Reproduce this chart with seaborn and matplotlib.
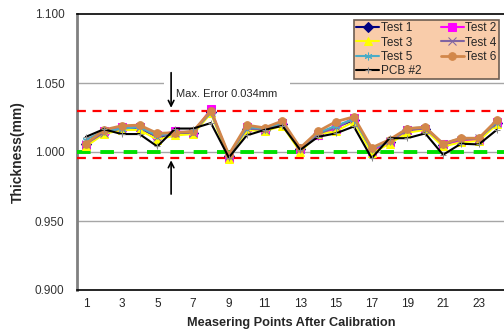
import matplotlib
matplotlib.use("Agg")
import matplotlib.pyplot as plt
import numpy as np
import pandas as pd
import seaborn as sns

points = list(range(1, 25))
test1 = [1.006, 1.014, 1.017, 1.017, 1.011, 1.013, 1.014, 1.029, 0.997, 1.017, 1.016, 1.020,
         1.002, 1.013, 1.018, 1.023, 1.001, 1.007, 1.016, 1.017, 1.005, 1.009, 1.009, 1.021]
test2 = [1.005, 1.015, 1.018, 1.018, 1.012, 1.015, 1.014, 1.031, 0.996, 1.018, 1.016, 1.021,
         1.002, 1.012, 1.017, 1.025, 1.001, 1.007, 1.016, 1.017, 1.006, 1.008, 1.009, 1.022]
test3 = [1.004, 1.013, 1.016, 1.016, 1.009, 1.012, 1.013, 1.028, 0.995, 1.016, 1.015, 1.019,
         1.000, 1.013, 1.015, 1.022, 0.999, 1.006, 1.014, 1.016, 1.004, 1.007, 1.008, 1.020]
test4 = [1.006, 1.014, 1.017, 1.018, 1.011, 1.014, 1.014, 1.029, 0.997, 1.017, 1.016, 1.021,
         1.002, 1.013, 1.018, 1.024, 1.002, 1.008, 1.016, 1.017, 1.006, 1.009, 1.010, 1.021]
test5 = [1.009, 1.015, 1.017, 1.018, 1.012, 1.014, 1.015, 1.029, 0.998, 1.018, 1.017, 1.021,
         1.003, 1.014, 1.019, 1.024, 1.002, 1.008, 1.017, 1.018, 1.006, 1.010, 1.010, 1.022]
test6 = [1.006, 1.016, 1.019, 1.0195, 1.0135, 1.014, 1.015, 1.030, 0.998, 1.0195, 1.0175, 1.0225,
         1.003, 1.015, 1.022, 1.0255, 1.003, 1.009, 1.017, 1.018, 1.006, 1.010, 1.010, 1.023]
pcb2 = [1.011, 1.0165, 1.013, 1.013, 1.004, 1.017, 1.017, 1.021, 0.996, 1.012, 1.016, 1.019,
        1.0015, 1.011, 1.0135, 1.0185, 0.9955, 1.010, 1.010, 1.0135, 0.998, 1.006, 1.0055, 1.016]

series_names = ["Test 1", "Test 2", "Test 3", "Test 4", "Test 5", "Test 6", "PCB #2"]
series_values = [test1, test2, test3, test4, test5, test6, pcb2]

upper_limit = 1.030
lower_limit = 0.996
nominal = 1.000
note_text = "Max. Error 0.034mm"

colors = {"Test 1": "#000080", "Test 2": "#FF00FF", "Test 3": "#FFFF00", "Test 4": "#8064A2",
          "Test 5": "#4BACC6", "Test 6": "#D2874A", "PCB #2": "#000000"}
markers = {"Test 1": "D", "Test 2": "s", "Test 3": "^", "Test 4": "x",
           "Test 5": (6, 2, 0), "Test 6": "o", "PCB #2": "+"}

df = pd.DataFrame({
    "point": points * len(series_names),
    "value": np.concatenate(series_values),
    "series": np.repeat(series_names, len(points)),
})

sns.set_style("white")
plt.rcParams["font.family"] = ["Liberation Sans", "DejaVu Sans"]

fig = plt.figure(figsize=(5.04, 3.31), dpi=100)
ax = fig.add_axes([77 / 504, 1 - 290 / 331, 428.6 / 504, 276 / 331])

ax.axhline(1.05, color="#A6A6A6", lw=1, zorder=0.5)
ax.axhline(0.95, color="#A6A6A6", lw=1, zorder=0.5)
ax.axhline(1.00, color="#A6A6A6", lw=1, zorder=0.5)

for name in series_names:
    sub = df[df["series"] == name]
    sns.lineplot(data=sub, x="point", y="value", ax=ax, color=colors[name],
                 marker=markers[name], markersize=5.5 if name != "PCB #2" else 4,
                 markeredgecolor=colors[name] if name != "PCB #2" else "#888888",
                 lw=2 if name == "Test 6" else 1.5, label=name, zorder=4)

ax.axhline(upper_limit, color="#FF0000", lw=1.6, ls=(0, (4, 3)), zorder=3)
ax.axhline(lower_limit, color="#FF0000", lw=1.6, ls=(0, (4, 3)), zorder=3)
ax.axhline(nominal, color="#00E000", lw=2.8, ls=(0, (3.5, 2.5)), zorder=3)

ax.text(6.05, 1.042, note_text, fontsize=8, ha="left", va="center", zorder=2,
        bbox=dict(facecolor="white", edgecolor="none", boxstyle="square,pad=1.1"))
ax.annotate("", xy=(5.77, upper_limit), xytext=(5.77, 1.0595), zorder=5,
            arrowprops=dict(arrowstyle="->", color="black", lw=1.2))
ax.annotate("", xy=(5.77, lower_limit), xytext=(5.77, 0.9675), zorder=5,
            arrowprops=dict(arrowstyle="->", color="black", lw=1.2))

ax.set_xlim(0.5, 24.5)
ax.set_ylim(0.9, 1.1)
ax.set_yticks([0.9, 0.95, 1.0, 1.05, 1.1])
ax.set_yticklabels(["0.900", "0.950", "1.000", "1.050", "1.100"])
ax.set_xticks(range(1, 25, 2))
ax.set_xticks(np.arange(1.5, 24.5, 1), minor=True)
ax.tick_params(axis="x", which="major", length=0, labelsize=8.5, colors="#222222", pad=6)
ax.tick_params(axis="x", which="minor", length=3, direction="in", color="#333333")
ax.tick_params(axis="y", length=0, labelsize=8.5, labelcolor="#333333", pad=9)

ax.set_xlabel("Measering Points After Calibration", fontsize=9.2, fontweight="bold", labelpad=5)
ax.set_ylabel("Thickness(mm)", fontsize=10, fontweight="bold", labelpad=7)

for side in ["top", "bottom", "right"]:
    ax.spines[side].set_color("black")
    ax.spines[side].set_linewidth(1.2)
ax.spines["left"].set_color("#808080")
ax.spines["left"].set_linewidth(2)

handles, labels = ax.get_legend_handles_labels()
order = [0, 2, 4, 6, 1, 3, 5]
leg = ax.legend([handles[i] for i in order], [labels[i] for i in order], ncol=2,
                loc="upper right", bbox_to_anchor=(0.985, 0.978), borderaxespad=0,
                fontsize=8.5, handlelength=1.9, handletextpad=0.15, columnspacing=1.7,
                labelspacing=0.18, borderpad=0.2, frameon=True, fancybox=False)
leg.get_frame().set_facecolor("#F9CCAA")
leg.get_frame().set_edgecolor("#6E5E52")
leg.get_frame().set_linewidth(1.2)
leg.get_frame().set_alpha(1)
leg.set_zorder(6)

fig.savefig("out.png", dpi=100)
